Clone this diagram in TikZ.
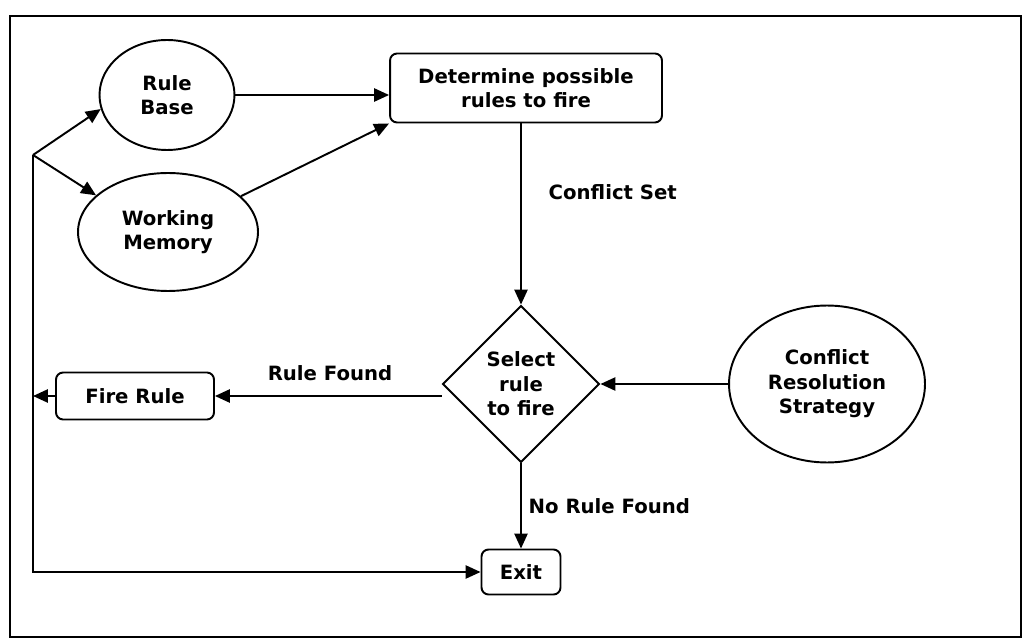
\documentclass[tikz,border=0pt]{standalone}
\usepackage{fontspec}
\setmainfont{DejaVu Sans}
\usetikzlibrary{positioning,shapes.geometric,arrows.meta}

\begin{document}
\begin{tikzpicture}[x=0.02cm,y=-0.02cm,line width=1.1pt,
      font=\bfseries\fontsize{11.2}{14}\selectfont,
      arr/.style={-{Triangle[length=8.5pt,width=7.5pt]}},
      oval/.style={draw,ellipse,align=center,inner sep=0pt},
      proc/.style={draw,rounded corners=4pt,align=center,inner sep=2pt},
      decide/.style={draw,diamond,align=center,inner sep=0pt,minimum width=3.14cm,minimum height=3.14cm},
      lbl/.style={align=left,inner sep=1pt}]
    \useasboundingbox (0,0) rectangle (1026,641);
    % frame
    \draw (10,16) rectangle (1021,637);
    % nodes
    \node[oval,minimum width=2.7cm,minimum height=2.2cm] (rb) at (167,95) {Rule\\Base};
    \node[oval,minimum width=3.6cm,minimum height=2.36cm] (wm) at (168,232) {Working\\Memory};
    \node[proc,minimum width=5.44cm,minimum height=1.38cm] (det) at (526,88) {Determine possible\\rules to fire};
    \node[decide] (sel) at (521,384) {Select\\rule\\to fire};
    \node[oval,minimum width=3.92cm,minimum height=3.14cm] (crs) at (827,384) {Conflict\\Resolution\\Strategy};
    \node[proc,minimum width=3.16cm,minimum height=0.94cm] (fire) at (135,396) {Fire Rule};
    \node[proc,minimum width=1.58cm,minimum height=0.9cm] (exit) at (521,572) {Exit};
    \coordinate (split) at (33,155);
    % labels
    \node[lbl,anchor=west] (csl) at (546,192) {Conflict Set};
    \node[lbl] (rfl) at (330,373) {Rule Found};
    \node[lbl,anchor=west] (nrl) at (526,506) {No Rule Found};
    % connectors
    \draw[arr] (rb.east) -- (rb.east -| det.west);
    \draw[arr] (wm) -- (det.south west);
    \draw[arr] (split) -- (rb.192);
    \draw[arr] (split) -- (wm.153);
    \draw[arr] (det.south -| sel.north) -- (sel.north);
    \draw[arr] (crs.west) -- (sel.east);
    \draw[arr] (sel.west |- fire.east) -- (fire.east);
    \draw[arr] (fire.west) -- (fire.west -| split);
    \draw[arr] (sel.south) -- (exit.north);
    \draw[arr] (split) |- (exit.west);
  \end{tikzpicture}
\end{document}
